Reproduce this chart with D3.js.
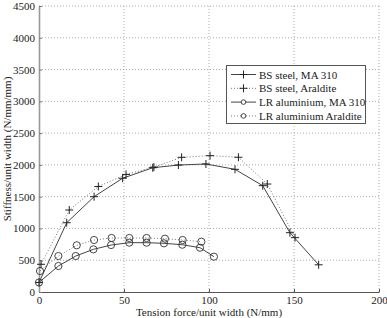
<!DOCTYPE html>
<html>
<head>
<meta charset="utf-8">
<script src="https://cdn.jsdelivr.net/npm/d3@7"></script>
<style>
  body { margin: 0; background: #fff; }
  svg { display: block; }
  svg text { font-family: 'Liberation Serif', 'DejaVu Serif', serif !important; fill: #222; }
</style>
</head>
<body>
<svg></svg>
<script>
let width = 387
let height = 318
let margin = { left: 39, right: 8, top: 6, bottom: 26 }

// BS steel, MA 310
let bsMaX = [0, 16.3, 32.4, 49.2, 66.9, 82, 98.2, 115.3, 131.6, 147.6, 164.5]
let bsMaY = [150, 1090, 1500, 1790, 1955, 1998, 2014, 1930, 1673, 933, 428]
// BS steel, Araldite
let bsArX = [1.2, 17.8, 34.9, 51.2, 67.6, 83.9, 100.6, 117.3, 134.3, 150.6]
let bsArY = [436, 1290, 1660, 1850, 1965, 2119, 2145, 2120, 1699, 855]
// LR aluminium, MA 310
let lrMaX = [0, 11.4, 21.6, 32, 42.4, 53.1, 63.3, 73.5, 84.3, 94.7, 102.9]
let lrMaY = [150, 409, 566, 671, 739, 776, 776, 766, 744, 697, 556]
// LR aluminium Araldite
let lrArX = [0.6, 11.4, 22.2, 32.4, 42.7, 53.1, 63.3, 74.1, 84.5, 95.5]
let lrArY = [330, 566, 735, 818, 850, 850, 850, 839, 818, 792]

let xTicks = [0, 50, 100, 150, 200]
let yTicks = [0, 500, 1000, 1500, 2000, 2500, 3000, 3500, 4000, 4500]

let seriesNames = ['BS steel, MA 310', 'BS steel, Araldite', 'LR aluminium, MA 310', 'LR aluminium Araldite']

let series = [
  { name: seriesNames[0], xs: bsMaX, ys: bsMaY, marker: 'plus', dotted: false },
  { name: seriesNames[1], xs: bsArX, ys: bsArY, marker: 'plus', dotted: true },
  { name: seriesNames[2], xs: lrMaX, ys: lrMaY, marker: 'circle', dotted: false },
  { name: seriesNames[3], xs: lrArX, ys: lrArY, marker: 'circle', dotted: true }
]

let svg = d3.select('svg').attr('width', width).attr('height', height)

let x = d3.scaleLinear().domain([0, 200]).range([margin.left, width - margin.right])
let y = d3.scaleLinear().domain([0, 4500]).range([height - margin.bottom, margin.top])

// grid
let grid = svg.append('g')
grid.selectAll('line.gx')
  .data(xTicks.slice(1))
  .enter().append('line')
  .attr('x1', d => x(d)).attr('x2', d => x(d))
  .attr('y1', y(0)).attr('y2', y(4500))
  .attr('stroke', '#aaa')
  .attr('stroke-width', 1)
  .attr('stroke-dasharray', '1,2')
grid.selectAll('line.gy')
  .data(yTicks.slice(1))
  .enter().append('line')
  .attr('x1', x(0)).attr('x2', x(200))
  .attr('y1', d => y(d)).attr('y2', d => y(d))
  .attr('stroke', '#aaa')
  .attr('stroke-width', 1)
  .attr('stroke-dasharray', '1,2')

// axes
let xAxis = svg.append('g')
  .attr('transform', 'translate(0,' + y(0) + ')')
  .call(d3.axisBottom(x).tickValues(xTicks).tickFormat(d3.format('d'))
    .tickSizeInner(-3).tickSizeOuter(0).tickPadding(4))
xAxis.select('.domain').attr('stroke', '#555').attr('stroke-width', 1.2)
xAxis.selectAll('.tick line').attr('stroke', '#555')
xAxis.selectAll('text').attr('font-size', 11).attr('fill', '#222')

let yAxis = svg.append('g')
  .attr('transform', 'translate(' + x(0) + ',0)')
  .call(d3.axisLeft(y).tickValues(yTicks).tickFormat(d3.format('d'))
    .tickSizeInner(-3).tickSizeOuter(0).tickPadding(4))
yAxis.select('.domain').attr('stroke', '#999').attr('stroke-width', 1.6)
yAxis.selectAll('.tick line').attr('stroke', '#777')
yAxis.selectAll('text').attr('font-size', 11).attr('fill', '#222')

svg.append('text')
  .attr('x', (x(0) + x(200)) / 2)
  .attr('y', 316)
  .attr('text-anchor', 'middle')
  .attr('font-size', 11)
  .text('Tension force/unit width (N/mm)')

svg.append('text')
  .attr('transform', 'translate(11,' + (y(0) + y(4500)) / 2 + ') rotate(-90)')
  .attr('text-anchor', 'middle')
  .attr('font-size', 11)
  .text('Stiffness/unit width  (N/mm/mm)')

let line = d3.line().x(d => x(d[0])).y(d => y(d[1]))

function drawMarker (g, m, cx, cy) {
  if (m === 'plus') {
    g.append('path')
      .attr('d', 'M' + (cx - 4) + ',' + cy + 'H' + (cx + 4) + 'M' + cx + ',' + (cy - 4) + 'V' + (cy + 4))
      .attr('stroke', '#222').attr('stroke-width', 1).attr('fill', 'none')
  } else {
    g.append('circle')
      .attr('cx', cx).attr('cy', cy).attr('r', 3.6)
      .attr('stroke', '#333').attr('stroke-width', 0.9).attr('fill', 'none')
  }
}

let plot = svg.append('g')
series.forEach(function (s) {
  let pts = s.xs.map((v, i) => [v, s.ys[i]])
  plot.append('path')
    .attr('d', line(pts))
    .attr('fill', 'none')
    .attr('stroke', s.dotted ? '#777' : '#444')
    .attr('stroke-width', 1)
    .attr('stroke-dasharray', s.dotted ? '1,2' : null)
  pts.forEach(p => drawMarker(plot, s.marker, x(p[0]), y(p[1])))
})

// legend
let legend = svg.append('g')
legend.append('rect')
  .attr('x', 226.5).attr('y', 65.5).attr('width', 139).attr('height', 58)
  .attr('fill', '#fff').attr('stroke', '#555').attr('stroke-width', 1)
series.forEach(function (s, i) {
  let ly = 74.5 + i * 13.8
  legend.append('line')
    .attr('x1', 231).attr('x2', 256).attr('y1', ly).attr('y2', ly)
    .attr('stroke', s.dotted ? '#777' : '#444')
    .attr('stroke-width', 1)
    .attr('stroke-dasharray', s.dotted ? '1,2' : null)
  if (s.marker === 'plus') {
    drawMarker(legend, 'plus', 243.5, ly)
  } else {
    legend.append('circle')
      .attr('cx', 243.5).attr('cy', ly).attr('r', 2.3)
      .attr('stroke', '#333').attr('stroke-width', 0.9).attr('fill', '#fff')
  }
  legend.append('text')
    .attr('x', 259).attr('y', ly + 4)
    .attr('font-size', 11)
    .text(s.name)
})
</script>
</body>
</html>
